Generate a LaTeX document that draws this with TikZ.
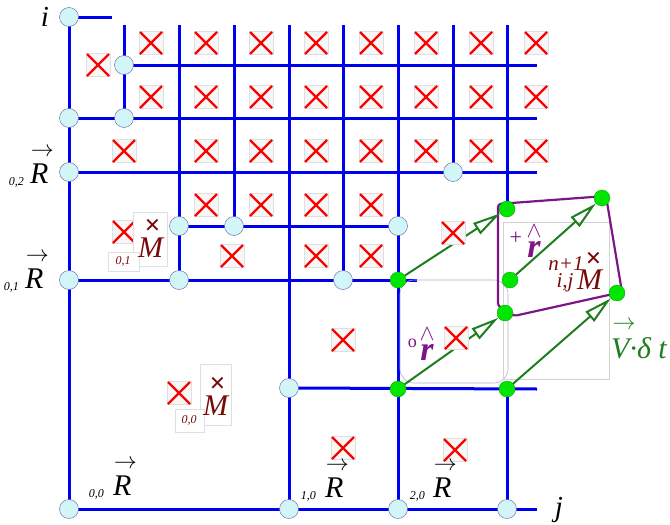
\documentclass[tikz,border=0pt]{standalone}
\usepackage{graphicx}
\usepackage{fontspec}
\setmainfont{Liberation Serif}
\usetikzlibrary{arrows.meta,positioning,backgrounds}
\definecolor{gridblue}{RGB}{0,0,240}
\definecolor{knotfill}{RGB}{210,245,248}
\definecolor{hotgreen}{RGB}{0,230,0}
\definecolor{flowgreen}{RGB}{30,125,30}
\definecolor{hullpurple}{RGB}{125,20,135}
\definecolor{massred}{RGB}{120,10,10}
\newcommand{\vecmark}{\resizebox{23pt}{!}{$\rightarrow$}}
\newcommand{\hatmark}{\resizebox{15pt}{!}{$\wedge$}}
\begin{document}
\begin{tikzpicture}[x=1pt,y=-1pt,
  gridline/.style={gridblue,line width=3pt},
  knot/.style={circle,draw=blue!25!gray,line width=0.4pt,fill=knotfill,minimum size=19pt,inner sep=0pt},
  hot/.style={circle,draw=green!60!black,line width=0.3pt,fill=hotgreen,minimum size=16pt,inner sep=0pt},
  flow/.style={flowgreen,line width=2pt,-{Triangle[open,length=28pt,width=13pt]}},
  big/.style={font=\fontsize{30}{32}\selectfont\itshape,inner sep=0pt},
  axis/.style={font=\fontsize{29}{30}\selectfont\itshape,inner sep=0pt},
  mid/.style={font=\fontsize{21}{22}\selectfont\itshape,inner sep=0pt},
  tiny/.style={font=\fontsize{12}{13}\selectfont\itshape,inner sep=0pt},
  vecarrow/.style={inner sep=0pt},
  massx/.style={font=\fontsize{28}{28}\selectfont\bfseries,text=massred,inner sep=0pt},
  rhat/.style={font=\fontsize{34}{34}\selectfont\bfseries\itshape,text=hullpurple,inner sep=0pt},
  hatnode/.style={text=hullpurple,inner sep=0pt},
  labelbox/.style={draw=gray!25,line width=0.4pt,fill=white},
  xmark/.pic={
    \draw[labelbox,fill=black!3] (-12,-11.5) rectangle (12,11.5);
    \draw[red,line width=2.4pt] (-11,-11) -- (11,11) (-11,11) -- (11,-11);
  }]
\useasboundingbox (0,0) rectangle (670,525);

% lattice knots
\node[knot] (ki) at (69,17) {};
\node[knot] (kA) at (124,65) {};
\node[knot] (kB) at (69,118) {};
\node[knot] (kC) at (124,118) {};
\node[knot] (kR2) at (69,172) {};
\node[knot] (kD) at (453,172) {};
\node[knot] (kE) at (179,226) {};
\node[knot] (kF) at (234,226) {};
\node[knot] (kG) at (398,226) {};
\node[knot] (kR1) at (69,280) {};
\node[knot] (kH) at (179,280) {};
\node[knot] (kI) at (343,280) {};
\node[knot] (kJ) at (289,388) {};
\node[knot] (kO) at (69,509) {};
\node[knot] (kR10) at (289,509) {};
\node[knot] (kR20) at (398,509) {};
\node[knot] (kL) at (507,509) {};

% moving points
\node[hot] (gA) at (398,280) {};
\node[hot] (gB) at (507,209) {};
\node[hot] (gC) at (510,280) {};
\node[hot] (gD) at (602,198) {};
\node[hot] (gE) at (398,389) {};
\node[hot] (gF) at (505,313) {};
\node[hot] (gG) at (507,389) {};
\node[hot] (gH) at (617,293) {};

\begin{scope}[on background layer]
  \draw[gridline] (ki.center) -- (kO.center) -- (537,509);
  \draw[gridline] (ki.center) -- (112,17);
  \draw[gridline] (124,25) -- (kC.center);
  \draw[gridline] (kA.center) -- (537,65);
  \draw[gridline] (kB.center) -- (537,118);
  \draw[gridline] (kR2.center) -- (537,172);
  \draw[gridline] (179,25) -- (kH.center);
  \draw[gridline] (234,25) -- (kF.center);
  \draw[gridline] (289,25) -- (kR10.center);
  \draw[gridline] (343,25) -- (kI.center);
  \draw[gridline] (398,25) -- (kR20.center);
  \draw[gridline] (453,25) -- (kD.center);
  \draw[gridline] (507,25) -- (gB.center);
  \draw[gridline] (gG.center) -- (kL.center);
  \draw[gridline] (kE.center) -- (kG.center);
  \draw[gridline] (kR1.center) -- (417,280);
  \draw[gridline] (kJ.center) -- (537,389);
  % text frames
  \draw[blue!25!gray!50,line width=0.6pt,rounded corners=14pt] (400,280) rectangle (508,383);
  \draw[gray!35,line width=0.6pt] (503,222) rectangle (609,379);
  % deformed cell
  \draw[hullpurple,line width=2.2pt,rounded corners=3pt]
    (498,204) -- (606,196) -- (622,292) -- (514,316) -- (498,306) -- cycle;
\end{scope}

% displacements
\draw[flow] (gA) -- (gB);
\draw[flow] (gC) -- (gD);
\draw[flow] (gE) -- (gF);
\draw[flow] (gG) -- (gH);

% cell masses
\foreach \y in {43,97}
  \foreach \x in {151,206,...,536}
    \pic at (\x,\y) {xmark};
\foreach \x in {124,206,261,316,371,426,481,536}
  \pic at (\x,151) {xmark};
\foreach \x in {206,261,316,371}
  \pic at (\x,205) {xmark};
\foreach \x in {232,316,371}
  \pic at (\x,256) {xmark};
\foreach \x/\y in {98/65,124/232,179/393,343/340,343/448,455/450,453/233,456/338}
  \pic at (\x,\y) {xmark};

% axes
\node[axis] (iax) at (45,17) {i};
\node[axis] (jax) at (559,510) {j};

% position vectors
\node[big,anchor=base west] (R02) at (30,183) {R};
\node[vecarrow,above=6pt of R02,xshift=3pt] (R02a) {\vecmark};
\node[tiny,anchor=base east,yshift=-2pt] (R02s) at ([xshift=-6pt]R02.base west) {0,2};
\node[big,anchor=base west] (R01) at (25,288) {R};
\node[vecarrow,above=6pt of R01,xshift=3pt] (R01a) {\vecmark};
\node[tiny,anchor=base east,yshift=-2pt] (R01s) at ([xshift=-6pt]R01.base west) {0,1};
\node[big,anchor=base west] (R00) at (113,495) {R};
\node[vecarrow,above=6pt of R00,xshift=3pt] (R00a) {\vecmark};
\node[tiny,anchor=base east,yshift=-2pt] (R00s) at ([xshift=-9pt]R00.base west) {0,0};
\node[big,anchor=base west] (R10) at (325,497) {R};
\node[vecarrow,above=6pt of R10,xshift=3pt] (R10a) {\vecmark};
\node[tiny,anchor=base east,yshift=-2pt] (R10s) at ([xshift=-9pt]R10.base west) {1,0};
\node[big,anchor=base west] (R20) at (433,497) {R};
\node[vecarrow,above=6pt of R20,xshift=3pt] (R20a) {\vecmark};
\node[tiny,anchor=base east,yshift=-2pt] (R20s) at ([xshift=-8pt]R20.base west) {2,0};

% masses
\draw[labelbox] (133,212) rectangle (167,266);
\draw[labelbox] (108,252) rectangle (139,271);
\node[big,text=massred,anchor=base west] (M01) at (138,257) {M};
\node[massx,above=2pt of M01,xshift=2pt] (M01x) {×};
\node[tiny,text=massred] (M01s) at (123,261) {0,1};
\draw[labelbox] (200,364) rectangle (231,425);
\draw[labelbox] (175,409) rectangle (204,432);
\node[big,text=massred,anchor=base west] (M00) at (203,415) {M};
\node[massx,above=2pt of M00,xshift=2pt] (M00x) {×};
\node[tiny,text=massred] (M00s) at (189,420) {0,0};
\node[big,text=massred,anchor=base west] (Mn) at (577,289) {M};
\node[massx,above=1pt of Mn,xshift=4pt] (Mnx) {×};
\node[mid,text=massred] (Mnt) at (566,264) {n+1};
\node[mid,text=massred] (Mnb) at (565,283) {i,j};

% vertex vectors
\node[rhat] (r0) at (427,352) {r};
\node[hatnode,above=3pt of r0] (r0h) {\hatmark};
\node[hatnode,font=\fontsize{18}{18}\selectfont,left=3pt of r0.north west] (r0o) {o};
\node[rhat] (r1) at (534,249) {r};
\node[hatnode,above=3pt of r1] (r1h) {\hatmark};
\node[hatnode,font=\fontsize{22}{22}\selectfont,left=5pt of r1.north west,yshift=3pt] (r1p) {+};

% velocity step
\node[big,text=flowgreen,anchor=base west] (Vdt) at (611,358) {V·δ t};
\node[vecarrow,text=flowgreen] (Vdta) at (624,325) {\vecmark};
\end{tikzpicture}
\end{document}
